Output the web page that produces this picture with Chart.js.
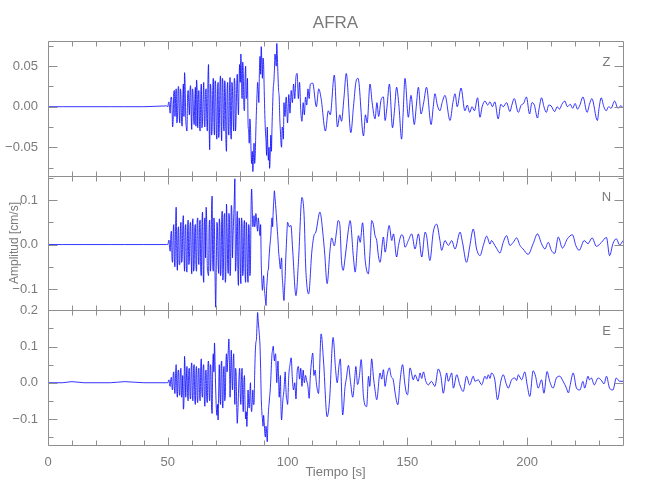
<!DOCTYPE html>
<html>
<head>
<meta charset="utf-8">
<title>AFRA</title>
<script src="https://cdn.jsdelivr.net/npm/chart.js@4.4.1/dist/chart.umd.min.js"></script>
<style>
    html, body { margin: 0; padding: 0; background: #fff; }
</style>
</head>
<body>
<canvas id="myChart" width="650" height="500"></canvas>
<script>
// sample times (s) shared by the three components
const preTime = [0, 6, 10, 15, 26, 32, 40, 49.5];
const denseTime = [
    50, 50.5, 51, 51.5, 52, 52.5, 53, 53.5, 54, 54.5,
    55, 55.5, 56, 56.5, 57, 57.5, 58, 58.5, 59, 59.5,
    60, 60.5, 61, 61.5, 62, 62.5, 63, 63.5, 64, 64.5,
    65, 65.5, 66, 66.5, 67, 67.5, 68, 68.5, 69, 69.5,
    70, 70.5, 71, 71.5, 72, 72.5, 73, 73.5, 74, 74.5,
    75, 75.5, 76, 76.5, 77, 77.5, 78, 78.5, 79, 79.5,
    80, 80.5, 81, 81.5, 82, 82.5, 83, 83.5, 84, 84.5,
    85, 85.5, 86, 86.5, 87, 87.5, 88, 88.5, 89, 89.5,
    90, 90.5, 91, 91.5, 92, 92.5, 93, 93.5, 94, 94.5,
    95, 95.5, 96, 96.5, 97, 97.5, 98, 98.5, 99, 99.5,
    100
];
const quarterTime = [
    50.25, 50.75, 51.25, 51.75, 52.25, 52.75, 53.25, 53.75, 54.25, 54.75,
    55.25, 55.75, 56.25, 56.75, 57.25, 57.75, 58.25, 58.75, 59.25, 59.75,
    60.25, 60.75, 61.25, 61.75, 62.25, 62.75, 63.25, 63.75, 64.25, 64.75,
    65.25, 65.75, 66.25, 66.75, 67.25, 67.75, 68.25, 68.75, 69.25, 69.75,
    70.25, 70.75, 71.25, 71.75, 72.25, 72.75, 73.25, 73.75, 74.25, 74.75,
    75.25, 75.75, 76.25, 76.75, 77.25, 77.75, 78.25, 78.75, 79.25, 79.75,
    80.25, 80.75, 81.25, 81.75, 82.25, 82.75, 83.25, 83.75, 84.25, 84.75,
    85.25, 85.75, 86.25, 86.75, 87.25, 87.75, 88.25, 88.75, 89.25, 89.75,
    90.25, 90.75, 91.25, 91.75, 92.25, 92.75, 93.25, 93.75, 94.25, 94.75,
    95.25, 95.75, 96.25, 96.75, 97.25, 97.75, 98.25, 98.75, 99.25, 99.75
];

// Z component [cm/s]
const zPre = [0, 0, 0, 0, 0, 0, 0, 0.001];
const zDense = [
    0, 0.006, -0.008, 0.012, -0.025, 0.018, -0.012, 0.022, -0.018, 0.025,
    -0.020, 0.015, -0.024, 0.028, 0.042, -0.015, -0.030, 0.020, -0.010, 0.026,
    -0.028, 0.018, -0.022, 0.024, 0.033, -0.026, 0.020, -0.030, 0.028, -0.018,
    0.030, -0.025, 0.022, -0.030, 0.052, -0.053, 0.020, -0.028, 0.035, -0.035,
    0.025, -0.040, 0.030, -0.025, 0.038, -0.042, 0.030, -0.030, 0.020, -0.055,
    0.030, -0.035, 0.036, -0.040, 0.022, -0.030, 0.028, -0.015, 0.040, -0.010,
    0.052, 0.065, 0.010, 0.045, -0.005, 0.050, 0.015, -0.020, -0.045, -0.025,
    -0.070, -0.080, -0.045, -0.060, -0.005, 0.030, 0.005, 0.062, 0.074, 0.035,
    0.052, -0.010, -0.042, -0.025, -0.066, -0.076, -0.035, -0.025, 0.022, 0.045,
    0.058, 0.078, 0.038, 0.012, -0.030, -0.050, -0.028, 0.005, -0.012, 0.012,
    -0.020
];
const zQuarter = [
    0.004, -0.003, 0.009, 0.002, -0.016, 0.020, 0.010, -0.020, 0.018, -0.008,
    0.022, -0.018, 0.010, -0.012, 0.025, -0.026, 0.012, 0.004, 0.018, -0.010,
    0.022, -0.012, 0.006, -0.024, 0.020, 0.012, -0.022, 0.015, -0.026, 0.012,
    -0.018, 0.020, -0.015, 0.030, -0.020, 0.028, -0.035, 0.020, -0.022, 0.032,
    -0.030, 0.015, -0.038, 0.025, -0.020, 0.035, -0.022, 0.032, -0.040, 0.018,
    -0.025, 0.020, -0.030, 0.030, -0.015, 0.035, -0.030, 0.025, 0.010, 0.030,
    0.030, 0.040, 0.055, 0.000, 0.035, 0.010, 0.035, -0.030, -0.015, -0.055,
    -0.055, -0.065, -0.070, -0.030, 0.015, 0.020, 0.045, 0.040, 0.055, 0.060,
    0.020, -0.030, -0.060, -0.050, -0.050, -0.060, -0.055, 0.000, 0.030, 0.065,
    0.050, 0.060, 0.020, -0.015, -0.045, -0.025, -0.040, -0.010, 0.008, -0.008
];
const zCodaTime = [
    100.5, 101, 101.5, 102, 102.5, 103, 103.5, 104, 104.5, 105,
    105.5, 106, 106.5, 107, 107.5, 108, 108.5, 109, 109.5, 110.5,
    112, 113, 114, 115.8, 117, 117.8, 119.5, 120.8, 121.8, 122.5,
    123.5, 124.5, 126.4, 127.5, 128.5, 129.4, 131.7, 132.5, 133.2, 134.4,
    135.3, 136.5, 137.3, 138, 139, 140, 140.7, 141.5, 142.5, 143.8,
    144.6, 145.5, 146.5, 147.6, 148.2, 149, 150.4, 151.5, 152.9, 153.7,
    154.6, 155.7, 156.8, 158, 159.9, 160.8, 161.5, 162.5, 163.6, 164.5,
    165.7, 167.8, 169, 169.9, 170.8, 172.4, 174, 175, 176, 177,
    178, 179.3, 180.3, 181.2, 182.4, 183.5, 184.5, 185.5, 186.5, 187.9,
    189, 190, 191.4, 192.8, 193.6, 194.6, 196.3, 197.5, 198.5, 199.7,
    201, 202, 203, 204.3, 205, 206, 207, 208, 209, 210,
    211.5, 212.5, 213.5, 214.5, 215.7, 216.8, 218, 219, 220, 221,
    222, 223.3, 225, 226, 227, 229.3, 230, 230.9, 232, 233,
    234, 235, 236.5, 237.9, 239, 240
];
const zCoda = [
    0.015, -0.008, 0.020, 0.005, 0.028, 0.010, 0.037, 0.041, 0.010, 0.030,
    -0.005, -0.018, 0.005, -0.010, 0.012, 0.002, 0.022, 0.010, 0.028, 0.029,
    0.000, 0.022, 0.010, -0.030, -0.005, -0.010, 0.039, -0.025, -0.010, -0.018,
    0.010, 0.041, -0.032, 0.000, 0.030, 0.035, -0.036, -0.010, -0.020, 0.028,
    0.005, -0.015, 0.005, -0.012, 0.008, 0.012, -0.017, 0.000, 0.028, -0.026,
    -0.005, 0.024, 0.000, -0.040, -0.010, 0.035, -0.013, 0.014, -0.022, 0.000,
    0.024, -0.009, 0.005, 0.024, -0.022, 0.000, 0.016, 0.002, -0.005, 0.005,
    0.014, -0.017, 0.005, 0.016, 0.000, 0.023, -0.005, 0.002, -0.007, 0.000,
    -0.005, 0.011, -0.013, 0.000, 0.007, 0.002, 0.006, 0.000, 0.006, -0.015,
    0.003, 0.000, 0.005, -0.006, 0.002, 0.010, -0.007, 0.002, 0.004, 0.012,
    -0.009, 0.005, 0.002, -0.014, -0.002, 0.011, 0.000, -0.007, 0.002, 0.001,
    -0.006, 0.000, -0.003, 0.003, 0.007, 0.000, 0.003, -0.002, 0.004, -0.003,
    0.002, 0.012, -0.007, 0.003, 0.010, -0.017, -0.002, 0.011, 0.000, -0.005,
    0.000, -0.002, 0.007, -0.002, 0.001, -0.001
];

// N component [cm/s]
const nPre = [0, 0, 0, 0, 0, 0, 0, 0];
const nDense = [
    0, 0.010, -0.015, 0.030, -0.040, 0.045, -0.050, 0.084, -0.058, 0.040,
    -0.045, 0.050, -0.035, 0.065, -0.060, 0.045, -0.062, 0.055, -0.040, 0.050,
    -0.066, 0.058, -0.050, 0.045, -0.060, 0.060, -0.045, 0.055, -0.070, 0.073,
    -0.085, 0.060, 0.084, -0.050, -0.070, 0.055, -0.040, 0.109, -0.060, 0.030,
    -0.141, 0.050, -0.040, 0.058, -0.070, 0.060, -0.080, 0.062, -0.085, 0.091,
    -0.050, 0.070, -0.070, 0.088, -0.030, 0.060, 0.148, -0.040, 0.075, -0.092,
    0.040, -0.088, 0.050, -0.060, 0.054, -0.085, 0.030, -0.085, 0.035, -0.050,
    0.125, 0.040, 0.065, 0.045, 0.060, 0.030, 0.050, 0.020, -0.040, -0.103,
    -0.070, -0.110, -0.137, -0.080, -0.055, -0.010, 0.020, 0.060, 0.075, 0.121,
    0.090, 0.050, 0.010, -0.030, -0.055, -0.030, -0.090, -0.126, -0.070, 0.000,
    0.050
];
const nQuarter = [
    0.005, -0.008, 0.020, -0.030, 0.025, -0.035, 0.040, -0.020, 0.030, -0.045,
    0.030, -0.040, 0.045, -0.020, 0.035, -0.050, 0.030, -0.045, 0.040, -0.030,
    0.040, -0.060, 0.035, -0.045, 0.050, -0.030, 0.045, -0.060, 0.040, -0.050,
    0.045, -0.030, 0.050, -0.065, 0.040, -0.060, 0.070, -0.045, 0.060, -0.080,
    -0.050, 0.035, -0.065, 0.040, -0.050, 0.075, -0.040, 0.070, -0.060, 0.040,
    -0.065, 0.050, -0.040, 0.070, 0.020, 0.100, -0.060, 0.040, -0.060, 0.060,
    -0.050, 0.060, -0.070, 0.040, -0.060, 0.050, -0.060, 0.045, -0.070, 0.080,
    0.085, 0.050, 0.040, 0.070, 0.040, 0.060, 0.030, 0.045, -0.080, -0.085,
    -0.095, -0.125, -0.100, -0.060, -0.030, 0.005, 0.045, 0.040, 0.100, 0.105,
    0.070, 0.030, -0.015, -0.045, -0.040, -0.070, -0.115, -0.100, -0.030, 0.030
];
const nCodaTime = [
    100.7, 101.4, 102.1, 103.5, 104.6, 106, 106.9, 107.6, 108.8, 110.1,
    111, 111.8, 113.5, 114.9, 115.5, 116.5, 117.7, 118.4, 119.5, 120.4,
    121.1, 121.8, 122.5, 123.2, 124, 125.4, 126.1, 127.5, 128.2, 129.6,
    130.3, 131.3, 132.4, 133.7, 134.4, 135.1, 135.8, 136.5, 137.2, 137.9,
    138.6, 140, 140.7, 142.4, 143.5, 144.2, 145.5, 146.3, 147.6, 148.3,
    149, 150.4, 151.8, 153.2, 154.6, 156, 157.4, 158, 159.4, 160.8,
    162.2, 163.6, 164.3, 165.7, 167.1, 168.5, 169.9, 172, 173, 174.7,
    176.1, 177.5, 178.9, 180.3, 181.7, 183.1, 184.5, 185.1, 186.5, 187.2,
    188.6, 190, 191.4, 192.8, 194.2, 195.6, 197, 198.3, 200.4, 202.5,
    204.3, 206, 207.4, 208.8, 210.1, 211.5, 213, 214.7, 216.8, 218.9,
    220.3, 221.7, 223.8, 225.4, 227.1, 228.9, 231, 233.1, 234.4, 235.8,
    237.2, 238.6, 240
];
const nCoda = [
    0.040, 0.043, -0.010, -0.115, -0.032, 0.106, 0.065, -0.055, -0.111, -0.017,
    0.020, 0.028, 0.073, 0.016, -0.021, -0.088, -0.013, 0.015, -0.003, 0.028,
    0.054, 0.045, -0.036, -0.058, -0.030, 0.034, 0.054, -0.030, -0.062, 0.020,
    0.005, 0.049, -0.036, -0.066, -0.017, 0.054, 0.045, 0.020, 0.009, -0.025,
    -0.040, 0.017, -0.017, 0.043, 0.009, 0.024, -0.028, -0.002, 0.022, 0.017,
    -0.006, 0.009, 0.024, -0.010, 0.024, -0.028, 0.028, 0.020, -0.036, 0.028,
    0.046, 0.009, -0.013, 0.009, -0.002, 0.009, -0.010, 0.028, 0.005, -0.040,
    -0.002, 0.035, -0.010, -0.025, -0.002, 0.019, 0.001, 0.009, -0.002, -0.008,
    -0.019, 0.005, 0.020, -0.002, 0.005, 0.015, -0.002, -0.010, -0.022, 0.002,
    0.024, 0.002, -0.010, 0.005, -0.013, -0.020, 0.017, -0.008, 0.013, 0.022,
    -0.002, -0.013, 0.009, 0.002, 0.015, -0.004, 0.005, 0.016, -0.025, 0.002,
    0.013, -0.001, 0.009
];

// E component [cm/s]
const ePre = [0, 0, 0.003, 0, 0, 0.003, 0, 0];
const eDense = [
    0, 0.008, -0.010, 0.015, -0.020, 0.030, -0.030, 0.050, -0.040, 0.035,
    -0.035, 0.040, -0.030, -0.073, 0.073, -0.040, 0.045, -0.050, 0.040, -0.045,
    0.055, -0.050, 0.050, -0.060, 0.045, -0.055, 0.040, -0.050, 0.066, -0.040,
    0.050, -0.065, 0.035, -0.055, 0.060, -0.050, 0.040, -0.085, 0.080, 0.110,
    -0.020, -0.090, -0.103, 0.050, -0.060, 0.060, -0.070, 0.045, -0.040, 0.080,
    0.060, 0.121, -0.040, 0.090, -0.020, 0.080, -0.060, 0.030, -0.112, -0.030,
    0.040, -0.060, 0.040, -0.080, 0.020, -0.100, -0.121, -0.020, -0.070, 0.000,
    -0.080, -0.020, -0.060, 0.080, 0.120, 0.194, 0.150, 0.100, -0.040, -0.100,
    -0.090, -0.140, -0.120, -0.163, -0.080, -0.040, 0.010, 0.080, 0.101, 0.060,
    0.080, 0.000, 0.060, -0.040, 0.020, -0.103, -0.050, -0.020, 0.030, -0.040,
    -0.060
];
const eQuarter = [
    0.004, -0.006, 0.010, -0.012, 0.020, -0.015, 0.025, -0.020, 0.030, -0.025,
    0.030, -0.040, 0.020, -0.050, 0.030, 0.010, -0.030, 0.035, -0.030, 0.035,
    -0.035, 0.040, -0.040, 0.030, -0.040, 0.035, -0.030, 0.045, -0.030, 0.040,
    -0.040, 0.030, -0.045, 0.045, -0.030, 0.050, -0.060, 0.040, 0.030, 0.050,
    -0.070, -0.060, -0.020, -0.030, 0.040, -0.050, 0.030, -0.050, 0.050, 0.030,
    0.090, 0.050, 0.040, 0.020, 0.050, 0.000, 0.040, -0.060, -0.080, 0.020,
    -0.030, 0.010, -0.040, 0.000, -0.060, -0.080, -0.080, -0.060, -0.030, -0.060,
    -0.050, -0.060, 0.020, 0.110, 0.160, 0.170, 0.130, 0.040, -0.080, -0.120,
    -0.110, -0.150, -0.140, -0.120, -0.060, -0.020, 0.050, 0.090, 0.080, 0.075,
    0.040, 0.035, 0.010, -0.010, -0.070, -0.080, -0.035, 0.010, -0.010, -0.050
];
const eCodaTime = [
    100.5, 101, 101.5, 102, 102.5, 103, 103.5, 104, 104.5, 105,
    105.5, 106, 106.5, 107, 107.5, 108, 108.5, 109, 109.5, 110,
    110.5, 111, 111.5, 112, 112.9, 114, 115, 116.5, 117.5, 119,
    120, 120.7, 121.5, 122, 123, 124, 124.5, 125.4, 126.3, 127.2,
    128, 128.5, 129.2, 130, 130.7, 131.7, 133, 133.8, 134.3, 135.1,
    135.8, 136.5, 137.2, 138.6, 139.3, 140, 140.7, 141.4, 142.5, 143.2,
    144.1, 144.9, 146, 147, 148, 148.9, 149.6, 150.1, 151.1, 152.5,
    153.2, 154.5, 155.3, 156, 156.7, 157.7, 158.8, 160, 161.5, 162.9,
    164, 165, 166.4, 167.1, 168.5, 169.2, 170.6, 171.9, 173.3, 174.7,
    176, 177.5, 178.2, 179.6, 181, 182.4, 183.1, 183.8, 184.5, 185.1,
    186.5, 187.6, 189, 190, 191.4, 192.1, 193.5, 194.9, 195.6, 196.3,
    197.7, 199, 200, 201.1, 202.5, 203.5, 204.6, 206, 207, 208.3,
    209.4, 210.8, 212.2, 213.6, 215, 216.4, 217.2, 218, 219.2, 220.6,
    222, 223.3, 224, 225.4, 226, 226.8, 228, 229.6, 230.8, 232.1,
    233.1, 234.4, 235.8, 237.2, 238.6, 240
];
const eCoda = [
    0.020, 0.050, 0.069, 0.010, -0.020, 0.000, -0.045, 0.030, 0.045, 0.010,
    0.040, -0.010, 0.035, 0.000, 0.020, 0.005, -0.010, -0.043, 0.020, 0.060,
    0.082, 0.020, 0.035, 0.000, -0.030, 0.135, 0.060, -0.094, -0.050, 0.125,
    0.040, 0.000, 0.050, 0.066, -0.089, -0.010, 0.010, 0.048, 0.000, -0.040,
    0.010, 0.045, -0.005, 0.020, 0.064, -0.040, -0.066, 0.018, -0.010, 0.066,
    0.018, -0.020, -0.047, 0.027, 0.010, 0.036, -0.010, 0.018, 0.041, 0.018,
    0.008, -0.029, -0.061, 0.008, 0.050, -0.001, -0.029, -0.033, 0.041, 0.008,
    0.022, 0.004, 0.027, 0.012, 0.030, 0.004, -0.006, 0.004, -0.010, 0.038,
    0.018, -0.029, 0.027, 0.004, 0.027, -0.015, 0.022, -0.006, -0.024, 0.018,
    -0.006, 0.018, 0.004, 0.008, -0.006, 0.018, 0.010, 0.022, 0.012, 0.027,
    0.008, -0.047, 0.004, 0.022, -0.006, -0.015, 0.008, 0.013, 0.006, 0.022,
    0.008, 0.030, -0.006, -0.038, 0.033, 0.018, -0.015, 0.008, -0.029, 0.031,
    0.004, -0.015, 0.013, 0.018, 0.004, -0.015, -0.028, -0.005, 0.027, -0.015,
    -0.020, 0.004, -0.015, 0.018, 0.008, 0.013, -0.006, 0.013, 0.008, -0.003,
    0.018, -0.015, -0.020, 0.013, 0.004, 0.004
];

// axis ticks
const xMajor = [0, 50, 100, 150, 200];
const xMinor = [10, 20, 30, 40, 60, 70, 80, 90, 110, 120, 130, 140, 160, 170, 180, 190, 210, 220, 230];
const zMajor = [-0.05, 0, 0.05];
const zMinor = [-0.075, -0.025, 0.025, 0.075];
const nMajor = [-0.1, 0, 0.1];
const nMinor = [-0.05, 0.05, 0.15];
const eMajor = [-0.1, 0, 0.1, 0.2];
const eMinor = [-0.15, -0.05, 0.05, 0.15];

const FONT = "'Liberation Sans Narrow', 'Liberation Sans', sans-serif";
const GRAY = '#7a7a7a';
const FRAME = '#8f8f8f';

const panels = [
    { id: 'yZ', label: 'Z', min: -0.085, max: 0.081, major: zMajor, minor: zMinor, digits: 2, order: 3 },
    { id: 'yN', label: 'N', min: -0.148, max: 0.155, major: nMajor, minor: nMinor, digits: 1, order: 2 },
    { id: 'yE', label: 'E', min: -0.172, max: 0.2, major: eMajor, minor: eMinor, digits: 1, order: 1 }
];

function toPoints(times, values) {
    return times.map((t, i) => ({ x: t, y: values[i] }));
}

function trace(pre, dense, quarter, codaTime, coda) {
    const pts = toPoints(preTime, pre).concat(
        toPoints(denseTime, dense),
        toPoints(quarterTime, quarter),
        toPoints(codaTime, coda)
    );
    return pts.sort((a, b) => a.x - b.x);
}

const panelFrame = {
    id: 'panelFrame',
    afterDatasetsDraw(chart) {
        const ctx = chart.ctx;
        const xs = chart.scales.x;
        ctx.save();
        ctx.strokeStyle = FRAME;
        ctx.lineWidth = 1;
        for (const p of panels) {
            const ys = chart.scales[p.id];
            const top = Math.round(ys.top) + 0.5, bottom = Math.round(ys.bottom) + 0.5;
            const left = Math.round(xs.left) + 0.5, right = Math.round(xs.right) + 0.5;
            ctx.beginPath();
            ctx.rect(left, top, right - left, bottom - top);
            const tickX = (vals, len) => vals.forEach(v => {
                const px = Math.round(xs.getPixelForValue(v)) + 0.5;
                ctx.moveTo(px, top); ctx.lineTo(px, top + len);
                ctx.moveTo(px, bottom); ctx.lineTo(px, bottom - len);
            });
            const tickY = (vals, len) => vals.forEach(v => {
                const py = Math.round(ys.getPixelForValue(v)) + 0.5;
                ctx.moveTo(left, py); ctx.lineTo(left + len, py);
                ctx.moveTo(right, py); ctx.lineTo(right - len, py);
            });
            tickX(xMajor, 8);
            tickX(xMinor, 5);
            tickY(p.major, 9);
            tickY(p.minor, 5);
            ctx.stroke();

            ctx.fillStyle = GRAY;
            ctx.font = '13px ' + FONT;
            ctx.textAlign = 'center';
            ctx.textBaseline = 'middle';
            ctx.fillText(p.label, right - 17, top + 21);
        }
        ctx.restore();
    }
};

const scales = {
    x: {
        type: 'linear',
        min: 0,
        max: 240,
        grid: { display: false },
        border: { display: false },
        afterBuildTicks: (s) => { s.ticks = xMajor.map(v => ({ value: v })); },
        afterFit: (s) => { s.height = 55; },
        ticks: {
            autoSkip: false,
            maxRotation: 0,
            padding: 2,
            color: GRAY,
            font: { family: FONT, size: 13 },
            callback: (v) => String(v)
        },
        title: {
            display: true,
            text: 'Tiempo [s]',
            color: GRAY,
            font: { family: FONT, size: 13 },
            padding: { top: 0, bottom: 20 }
        }
    }
};

for (const p of panels) {
    scales[p.id] = {
        type: 'linear',
        position: 'left',
        stack: 'panels',
        stackWeight: 1,
        weight: p.order,
        min: p.min,
        max: p.max,
        grid: { display: false },
        border: { display: false },
        afterBuildTicks: (s) => { s.ticks = p.major.map(v => ({ value: v })); },
        afterFit: (s) => { s.width = 48; },
        ticks: {
            autoSkip: false,
            padding: 2,
            color: GRAY,
            font: { family: FONT, size: 13 },
            callback: (v) => Number(v).toFixed(p.digits).replace('-', '\u2212')
        },
        title: {
            display: p.id === 'yN',
            text: 'Amplitud [cm/s]',
            color: GRAY,
            font: { family: FONT, size: 12 },
            padding: { top: 7, bottom: 0 }
        }
    };
}

const lineStyle = {
    borderColor: '#0000ff',
    borderWidth: 0.8,
    pointRadius: 0,
    cubicInterpolationMode: 'monotone',
    fill: false
};

const data = {
    datasets: [
        Object.assign({ label: 'Z', yAxisID: 'yZ', data: trace(zPre, zDense, zQuarter, zCodaTime, zCoda) }, lineStyle),
        Object.assign({ label: 'N', yAxisID: 'yN', data: trace(nPre, nDense, nQuarter, nCodaTime, nCoda) }, lineStyle),
        Object.assign({ label: 'E', yAxisID: 'yE', data: trace(ePre, eDense, eQuarter, eCodaTime, eCoda) }, lineStyle)
    ]
};

const config = {
    type: 'line',
    data: data,
    options: {
        responsive: false,
        animation: false,
        devicePixelRatio: 1,
        layout: { padding: { left: 0, right: 27, top: 0, bottom: 0 } },
        scales: scales,
        plugins: {
            legend: { display: false },
            tooltip: { enabled: false },
            title: {
                display: true,
                text: 'AFRA',
                fullSize: false,
                color: GRAY,
                font: { family: FONT, size: 17, weight: 'normal' },
                padding: { top: 13, bottom: 7.6 }
            }
        }
    },
    plugins: [panelFrame]
};

const myChart = new Chart(document.getElementById('myChart'), config);
</script>
</body>
</html>
